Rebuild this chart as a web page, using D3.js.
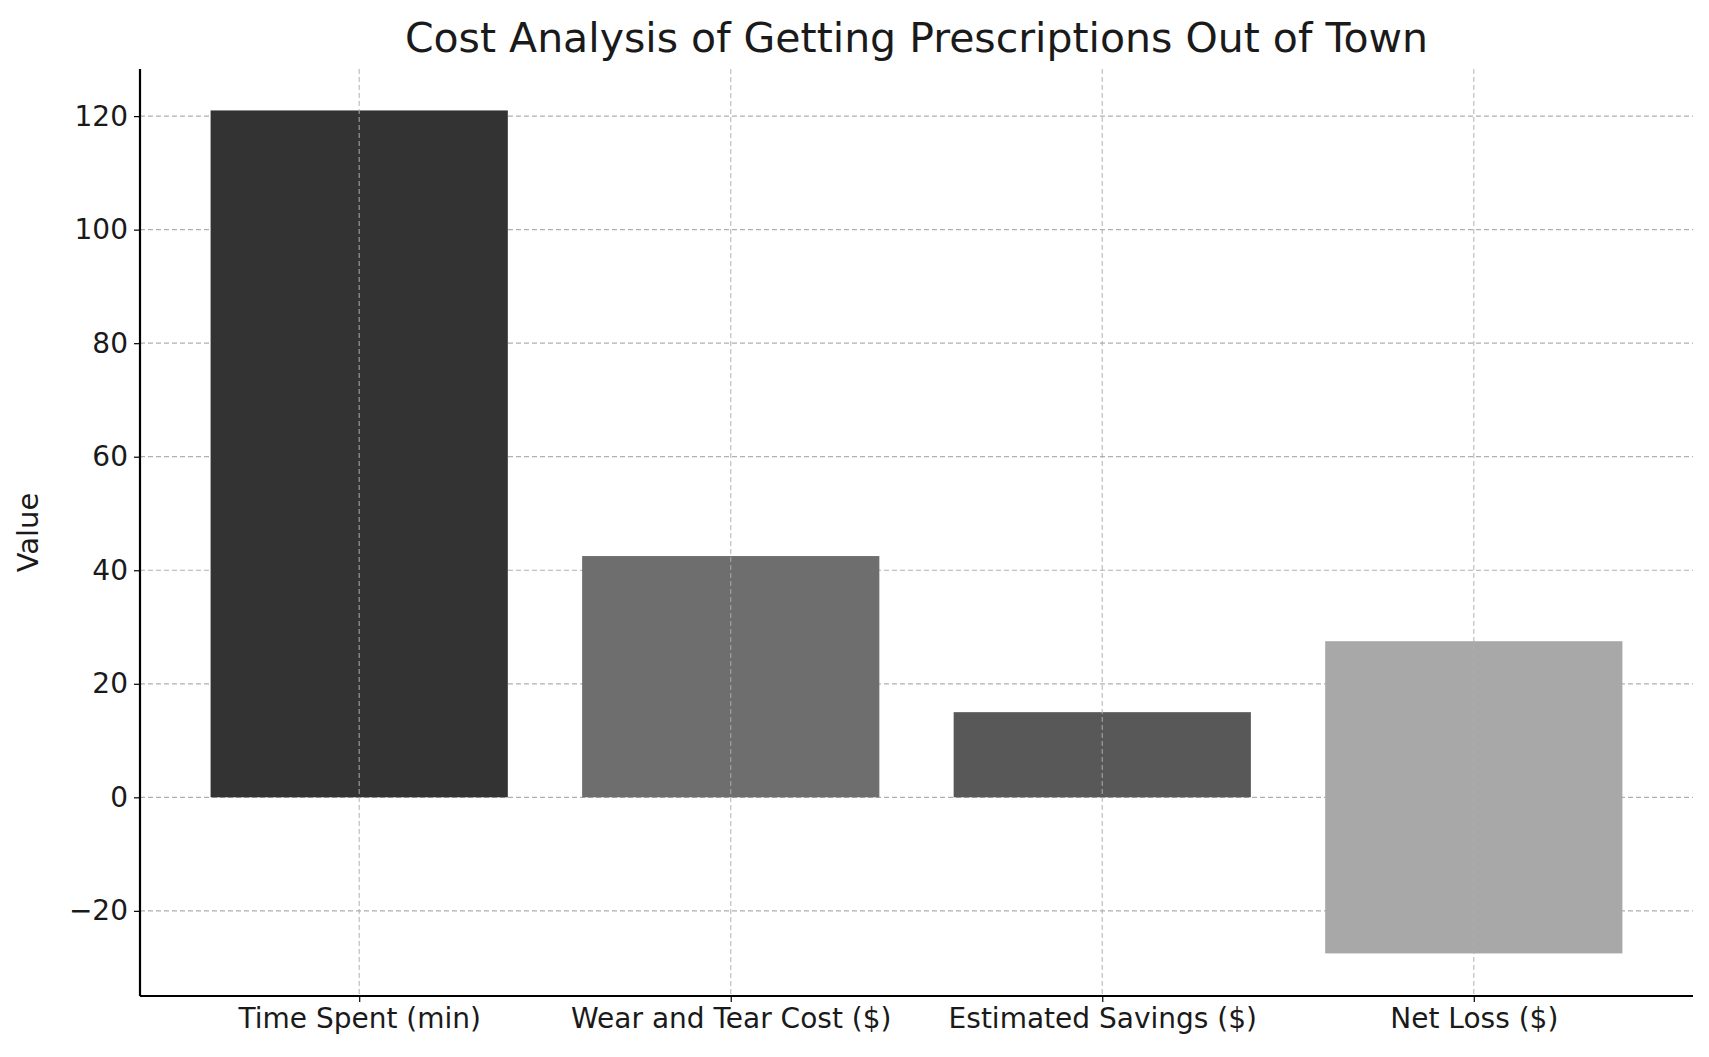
<!DOCTYPE html>
<html><head><meta charset="utf-8">
<script src="https://cdn.jsdelivr.net/npm/d3@7"></script>
<style>body{margin:0;background:#fff}text{font-family:"DejaVu Sans",sans-serif;fill:#1a1a1a}</style>
</head><body><svg id="c" width="1709" height="1057"></svg>
<script>
// chart data
const categories = ["Time Spent (min)", "Wear and Tear Cost ($)", "Estimated Savings ($)", "Net Loss ($)"];
const barTops = [121, 42.5, 15, 27.5];
const barBottoms = [0, 0, 0, -27.5];
const barColors = ["#333333", "#6e6e6e", "#585858", "#a8a8a8"];
const yTicks = [-20, 0, 20, 40, 60, 80, 100, 120];

const svg = d3.select("#c");
const m = {left: 140, right: 1693, top: 69, bottom: 996};

let x = d3.scaleLinear().domain([-0.59, 3.59]).range([m.left, m.right]);
let y = d3.scaleLinear().domain([-35, 128.3]).range([m.bottom, m.top]);

// grid
svg.append("g").selectAll("line").data(yTicks).join("line")
  .attr("x1", m.left).attr("x2", m.right)
  .attr("y1", d => y(d)).attr("y2", d => y(d))
  .attr("stroke", "#b0b0b0").attr("stroke-width", 1.2).attr("stroke-dasharray", "5,3");

// bars
svg.append("g").selectAll("rect").data(categories).join("rect")
  .attr("x", (d, i) => x(i - 0.4))
  .attr("width", (d, i) => x(i + 0.4) - x(i - 0.4))
  .attr("y", (d, i) => y(barTops[i]))
  .attr("height", (d, i) => y(barBottoms[i]) - y(barTops[i]))
  .attr("fill", (d, i) => barColors[i]);

// vertical grid drawn over bars like the reference
svg.append("g").selectAll("line").data(categories).join("line")
  .attr("x1", (d, i) => x(i)).attr("x2", (d, i) => x(i))
  .attr("y1", m.top).attr("y2", m.bottom)
  .attr("stroke", "#b0b0b0").attr("stroke-width", 1.2).attr("stroke-dasharray", "5,3")
  .attr("opacity", 0.8);

// axes
let yAxis = d3.axisLeft(y).tickValues(yTicks).tickSize(6).tickFormat(d => d < 0 ? "\u2212" + Math.abs(d) : d);
let gy = svg.append("g").attr("transform", `translate(${m.left},0)`).call(yAxis);
let xAxis = d3.axisBottom(x).tickValues([0, 1, 2, 3]).tickSize(6).tickFormat(i => categories[i]);
let gx = svg.append("g").attr("transform", `translate(0,${m.bottom})`).call(xAxis);
[gy, gx].forEach(g => {
  g.select(".domain").attr("stroke", "#000").attr("stroke-width", 2.2);
  g.selectAll(".tick line").attr("stroke", "#000").attr("stroke-width", 1.2);
  g.selectAll("text").style("font-size", "28px").attr("fill", "#1a1a1a");
});
gy.select(".domain").attr("d", `M0,${m.top}V${m.bottom}`);
gx.select(".domain").attr("d", `M${m.left},0H${m.right}`);
gy.selectAll("text").attr("x", -12);
gx.selectAll("text").attr("y", 12);

// title and label
svg.append("text").attr("x", (m.left + m.right) / 2).attr("y", 52)
  .attr("text-anchor", "middle").style("font-size", "41px").text("Cost Analysis of Getting Prescriptions Out of Town");
svg.append("text").attr("transform", `translate(38,${(m.top + m.bottom) / 2}) rotate(-90)`)
  .attr("text-anchor", "middle").style("font-size", "29px").text("Value");
</script></body></html>
